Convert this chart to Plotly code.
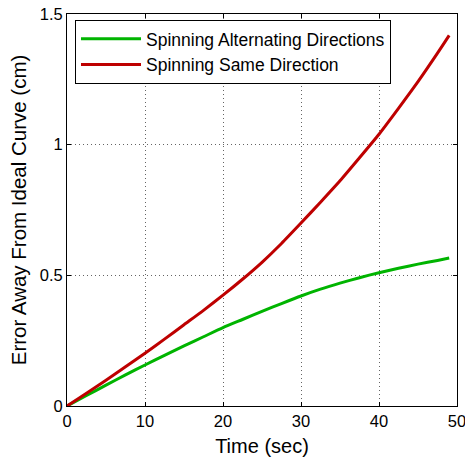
import plotly.graph_objects as go

time_s = [0, 2.5, 5, 7.5, 10, 12.5, 15, 17.5, 20, 22.5, 25, 27.5, 30, 32.5, 35, 37.5, 40, 42.5, 45, 47.5, 49]
alt_err = [0, 0.040, 0.080, 0.119, 0.157, 0.194, 0.230, 0.265, 0.300, 0.331, 0.362, 0.392, 0.421, 0.447, 0.470, 0.491, 0.510, 0.527, 0.543, 0.557, 0.566]
same_err = [0, 0.049, 0.099, 0.150, 0.202, 0.256, 0.311, 0.366, 0.424, 0.485, 0.550, 0.622, 0.700, 0.780, 0.862, 0.950, 1.040, 1.139, 1.241, 1.350, 1.418]

series_names = ["Spinning Alternating Directions", "Spinning Same Direction"]
x_ticks = [0, 10, 20, 30, 40, 50]
y_ticks = [0, 0.5, 1, 1.5]
y_tick_labels = ["0", "0.5", "1", "1.5"]

fig = go.Figure()
fig.add_trace(go.Scatter(x=time_s, y=alt_err, mode="lines", name=series_names[0],
                         line=dict(color="rgb(0,180,0)", width=3, shape="spline", smoothing=0.6)))
fig.add_trace(go.Scatter(x=time_s, y=same_err, mode="lines", name=series_names[1],
                         line=dict(color="rgb(190,0,0)", width=3, shape="spline", smoothing=0.6)))

font_family = "Liberation Sans, Arial, sans-serif"
axis_common = dict(
    showline=True, linecolor="black", linewidth=1, mirror="ticks",
    ticks="inside", ticklen=4, tickcolor="black",
    showgrid=True, gridcolor="rgb(100,100,100)", griddash="1px,3px", gridwidth=1,
    zeroline=False, automargin=False, ticklabeloverflow="allow",
    tickfont=dict(size=16.5, color="black", family=font_family),
)

fig.update_layout(
    width=465, height=457,
    margin=dict(l=67, r=8, t=14, b=51),
    paper_bgcolor="white", plot_bgcolor="white",
    font=dict(family=font_family, color="black"),
    xaxis=dict(range=[0, 50], tickvals=x_ticks,
               title=dict(text="Time (sec)", font=dict(size=20), standoff=12), **axis_common),
    yaxis=dict(range=[0, 1.5], tickvals=y_ticks, ticktext=y_tick_labels,
               title=dict(text="Error Away From Ideal Curve (cm)", font=dict(size=20.5), standoff=7), **axis_common),
    legend=dict(x=0.0205, y=0.985, xanchor="left", yanchor="top",
                bordercolor="black", borderwidth=1, bgcolor="white", itemwidth=60,
                font=dict(size=17.5, color="black"), tracegroupgap=0),
    showlegend=True,
)

fig.write_html("out.html", config={"displayModeBar": False},
               post_script="document.body.style.margin='0px';document.body.style.overflow='hidden';")
